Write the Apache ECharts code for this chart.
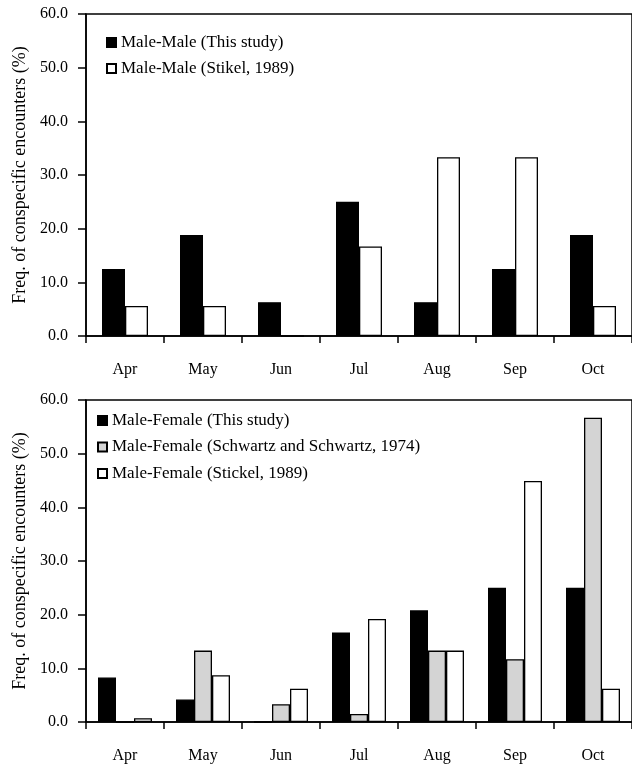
<!DOCTYPE html>
<html>
<head>
<meta charset="utf-8">
<script src="https://cdn.jsdelivr.net/npm/echarts@6/dist/echarts.min.js"></script>
<style>
html,body{margin:0;padding:0;background:#fff;}
#c{width:632px;height:765px;}
</style>
</head>
<body>
<div id="c"></div>
<script>
var months = ['Apr', 'May', 'Jun', 'Jul', 'Aug', 'Sep', 'Oct'];
var yTicks = [0, 10, 20, 30, 40, 50, 60];

var mmThisStudy = [12.5, 18.8, 6.3, 25.0, 6.3, 12.5, 18.8];
var mmStickel = [5.6, 5.6, 0, 16.7, 33.3, 33.3, 5.6];

var mfThisStudy = [8.3, 4.2, 0, 16.7, 20.8, 25.0, 25.0];
var mfSchwartz = [0, 13.3, 3.3, 1.5, 13.3, 11.7, 56.7];
var mfStickel = [0.7, 8.7, 6.2, 19.2, 13.3, 44.9, 6.2];

var nameMM1 = 'Male-Male (This study)';
var nameMM2 = 'Male-Male (Stikel, 1989)';
var nameMF1 = 'Male-Female (This study)';
var nameMF2 = 'Male-Female (Schwartz and Schwartz, 1974)';
var nameMF3 = 'Male-Female (Stickel, 1989)';
var yName = 'Freq. of conspecific encounters (%)';

var FONT = 'Liberation Serif';

function xAxis(idx) {
  return {
    type: 'category', gridIndex: idx, data: months,
    axisLine: {lineStyle: {color: '#000', width: 1.5}},
    axisTick: {show: true, length: 7, lineStyle: {color: '#000', width: 1.5}},
    axisLabel: {color: '#000', fontFamily: FONT, fontSize: 16, margin: 26}
  };
}
function yAxis(idx) {
  return {
    type: 'value', gridIndex: idx, min: yTicks[0], max: yTicks[yTicks.length - 1], interval: 10,
    name: yName, nameLocation: 'middle', nameGap: 55, nameRotate: 90,
    nameTextStyle: {color: '#000', fontFamily: FONT, fontSize: 18},
    axisLine: {show: true, lineStyle: {color: '#000', width: 1.5}},
    axisTick: {show: true, length: 8, lineStyle: {color: '#000', width: 1.5}},
    splitLine: {show: false},
    axisLabel: {color: '#000', fontFamily: FONT, fontSize: 16, margin: 18,
      formatter: function (v) { return v.toFixed(1); }}
  };
}
function bar(name, data, color, idx, w) {
  return {
    type: 'bar', name: name, data: data, xAxisIndex: idx, yAxisIndex: idx,
    barWidth: w, barGap: '0%',
    itemStyle: {color: color, borderColor: '#000', borderWidth: 1.3}
  };
}
var legendText = {color: '#000', fontFamily: FONT, fontSize: 17, lineHeight: 17};

var chart = echarts.init(document.getElementById('c'), null, {renderer: 'canvas'});
chart.setOption({
  animation: false,
  backgroundColor: '#fff',
  grid: [
    {left: 86, width: 549, top: 14, height: 322, show: true, borderColor: '#000', borderWidth: 1.5},
    {left: 86, width: 549, top: 400, height: 322, show: true, borderColor: '#000', borderWidth: 1.5}
  ],
  legend: [
    {data: [nameMM1, nameMM2], orient: 'vertical', left: 101, top: 29, icon: 'rect',
      itemWidth: 9, itemHeight: 9, itemGap: 9, textStyle: legendText},
    {data: [nameMF1, nameMF2, nameMF3], orient: 'vertical', left: 92, top: 407, icon: 'rect',
      itemWidth: 9, itemHeight: 9, itemGap: 9.5, textStyle: legendText}
  ],
  xAxis: [xAxis(0), xAxis(1)],
  yAxis: [yAxis(0), yAxis(1)],
  series: [
    bar(nameMM1, mmThisStudy, '#000', 0, 23),
    bar(nameMM2, mmStickel, '#fff', 0, 23),
    bar(nameMF1, mfThisStudy, '#000', 1, 18),
    bar(nameMF2, mfSchwartz, '#d4d4d4', 1, 18),
    bar(nameMF3, mfStickel, '#fff', 1, 18)
  ]
});
</script>
</body>
</html>
